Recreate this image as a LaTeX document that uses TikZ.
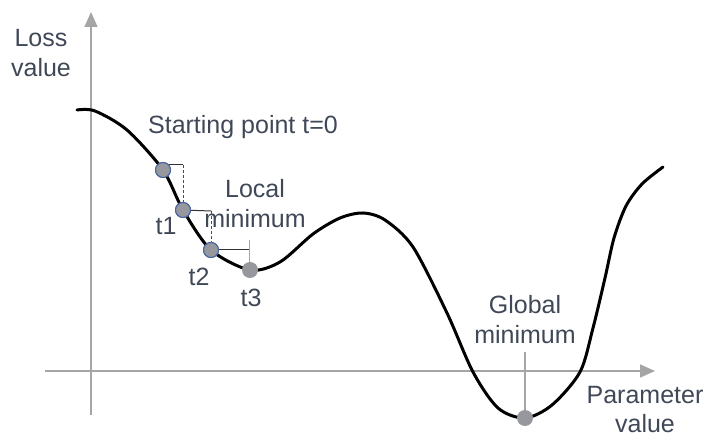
\documentclass[tikz,border=0pt]{standalone}
\usepackage{fontspec}
\setmainfont{Liberation Sans}
\usetikzlibrary{arrows.meta}
\definecolor{axisgray}{RGB}{165,165,165}
\definecolor{txt}{RGB}{64,72,88}
\definecolor{dotgray}{RGB}{150,152,158}
\definecolor{dotblue}{RGB}{70,100,160}
\tikzset{
  axis/.style={draw=axisgray, line width=1.6pt, -{Triangle[length=15pt,width=13pt]}},
  lbl/.style={text=txt, font=\fontsize{25}{28}\selectfont, align=center, inner sep=0pt},
  dotb/.style={circle, fill=dotgray, draw=dotblue, line width=1pt, minimum size=15pt, inner sep=0pt},
  dotg/.style={circle, fill=dotgray, minimum size=16pt, inner sep=0pt},
  stepline/.style={draw=black!80, line width=1pt},
  dashline/.style={draw=black!70, line width=0.9pt, dashed, dash pattern=on 3pt off 2pt},
}
\begin{document}
\begin{tikzpicture}[x=1pt,y=-1pt]
\useasboundingbox (0,0) rectangle (705,438);
% axes
\coordinate (yb) at (91,415);
\coordinate (yt) at (91,12);
\coordinate (xl) at (45,371);
\coordinate (xr) at (655,371);
\draw[axis] (yb) -- (yt);
\draw[axis] (xl) -- (xr);
% curve
\draw[line width=3pt, line cap=round] plot[smooth, tension=0.5] coordinates {
 (77,110) (95,111) (127,130) (163,170) (183,210) (211,250) (250,270)
 (280,262) (313,234) (340,218) (363,213) (385,220) (413,247) (447,313)
 (473,372) (498,408) (525,418) (552,405) (580,372) (593,328) (605,278)
 (614,238) (626,206) (642,184) (663,167)};
% step lines
\coordinate (h0) at (183,165);
\coordinate (h1) at (211,211);
\coordinate (h2) at (249,250);
\coordinate (h2t) at (249,240);
\node[dotb] (p0) at (163,170) {};
\node[dotb] (p1) at (183,210) {};
\node[dotb] (p2) at (211,250) {};
\draw[stepline] (158,165) -- (h0);
\draw[dashline] (h0) -- (p1.north);
\draw[stepline] (p1.center) -- (h1);
\draw[dashline] (h1) -- (p2.north);
\draw[stepline] (p2.center) -- (h2);
\draw[draw=axisgray, line width=1pt] (h2t) -- (249,262);
\node[dotb] at (163,170) {};
\node[dotb] at (183,210) {};
\node[dotb] at (211,250) {};
\node[dotg] (p3) at (250,270) {};
% global min
\coordinate (gm) at (525,352);
\draw[draw=axisgray, line width=1.2pt] (gm) -- (525,418);
\node[dotg] (pg) at (525,418) {};
% labels
\node[lbl] (loss) at (41,53) {Loss\\[2pt]value};
\node[lbl] (start) at (243,127) {Starting point t=0};
\node[lbl] (local) at (255,204) {Local\\[2pt]minimum};
\node[lbl] (t1) at (166,226) {t1};
\node[lbl] (t2) at (199,277) {t2};
\node[lbl] (t3) at (251,298) {t3};
\node[lbl] (glob) at (525,320) {Global\\[2pt]minimum};
\node[lbl] (param) at (645,410) {Parameter\\[1pt]value};
\end{tikzpicture}
\end{document}
